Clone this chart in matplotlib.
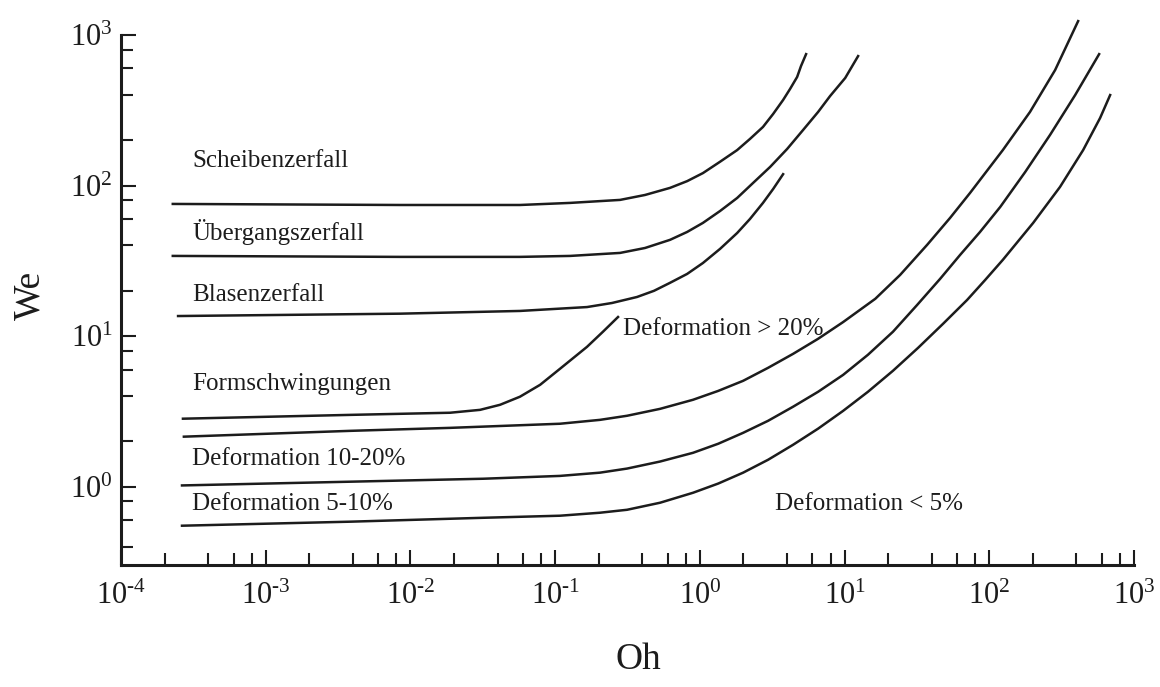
import matplotlib
matplotlib.use("Agg")
import matplotlib.pyplot as plt
from matplotlib.ticker import LogLocator, NullFormatter, FixedLocator, FuncFormatter

plt.rcParams['font.family'] = ['Liberation Serif', 'DejaVu Serif']
plt.rcParams['mathtext.fontset'] = 'custom'
plt.rcParams['mathtext.rm'] = 'Liberation Serif'
plt.rcParams['mathtext.default'] = 'regular'

# boundary curves (Oh, We)
oh_scheibe = [2.28e-4, 8.47e-3, 0.0571, 0.127, 0.281, 0.418, 0.622, 0.817, 1.05, 1.38,
              1.81, 2.22, 2.73, 3.21, 3.76, 4.20, 4.70, 5.00, 5.42]
we_scheibe = [75.5, 74.3, 74.3, 76.7, 80.3, 86.6, 96.5, 107, 121, 144,
              172, 204, 245, 299, 370, 438, 526, 622, 746]

oh_uebergang = [2.28e-4, 8.47e-3, 0.0571, 0.127, 0.281, 0.418, 0.622, 0.817, 1.05, 1.38,
                1.81, 2.33, 3.06, 4.01, 5.17, 6.56, 7.94, 10.1, 12.4]
we_uebergang = [34.1, 33.6, 33.6, 34.1, 35.7, 38.5, 43.6, 49.2, 56.5, 67.8,
                82.7, 104, 133, 175, 234, 308, 393, 518, 724]

oh_blasen = [2.48e-4, 8.47e-3, 0.0571, 0.166, 0.247, 0.368, 0.482, 0.622, 0.817, 1.05,
             1.38, 1.81, 2.22, 2.73, 3.21, 3.76]
we_blasen = [13.6, 14.1, 14.7, 15.6, 16.6, 18.2, 20.0, 22.6, 25.9, 30.6,
             38.0, 48.4, 60.0, 76.7, 94.9, 119]

oh_form = [2.68e-4, 3.83e-3, 0.0188, 0.0303, 0.0416, 0.0571, 0.0787, 0.108, 0.166, 0.214, 0.272]
we_form = [2.83, 3.00, 3.10, 3.24, 3.50, 3.96, 4.75, 6.07, 8.49, 10.7, 13.4]

oh_def20 = [2.72e-4, 3.83e-3, 0.0188, 0.108, 0.204, 0.314, 0.531, 0.897, 1.34, 1.99,
            2.96, 4.41, 6.56, 9.77, 16.3, 24.2, 37.2, 53.6, 73.6, 124, 191, 285, 411]
we_def20 = [2.15, 2.35, 2.46, 2.62, 2.78, 2.96, 3.29, 3.78, 4.33, 5.05,
            6.16, 7.63, 9.60, 12.4, 17.7, 25.5, 40.4, 61.0, 89.3, 172, 308, 585, 1236]

oh_def10 = [2.64e-4, 3.83e-3, 0.0318, 0.108, 0.204, 0.314, 0.531, 0.897, 1.34, 1.99,
            2.96, 4.41, 6.56, 9.77, 14.5, 21.6, 31.7, 45.7, 62.8, 86.3, 119, 177, 263, 392, 574]
we_def10 = [1.02, 1.08, 1.13, 1.18, 1.24, 1.32, 1.47, 1.68, 1.93, 2.28,
            2.74, 3.40, 4.27, 5.53, 7.52, 10.7, 16.1, 24.0, 34.6, 49.2, 72.1, 123, 217, 399, 746]

oh_def5 = [2.64e-4, 3.83e-3, 0.0318, 0.108, 0.204, 0.314, 0.531, 0.897, 1.34, 1.99,
           2.96, 4.41, 6.56, 9.77, 14.5, 21.6, 32.2, 48.0, 70.3, 93.6, 124, 201, 308, 445, 583, 684]
we_def5 = [0.551, 0.586, 0.622, 0.642, 0.672, 0.703, 0.783, 0.912, 1.05, 1.24,
           1.51, 1.90, 2.43, 3.19, 4.27, 5.89, 8.36, 12.1, 17.4, 23.6, 32.1, 56.5, 97.9, 172, 281, 399]

curves = [(oh_scheibe, we_scheibe), (oh_uebergang, we_uebergang),
          (oh_blasen, we_blasen), (oh_form, we_form), (oh_def20, we_def20),
          (oh_def10, we_def10), (oh_def5, we_def5)]

# region labels: text, Oh (left edge), We (baseline)
labels = ["Scheibenzerfall", "Übergangszerfall", "Blasenzerfall", "Formschwingungen",
          "Deformation 10-20%", "Deformation 5-10%", "Deformation > 20%", "Deformation < 5%"]
label_oh = [3.1e-4, 3.1e-4, 3.1e-4, 3.1e-4, 3.1e-4, 3.1e-4, 0.294, 3.31]
label_we = [133, 43.5, 17.1, 4.4, 1.40, 0.703, 10.2, 0.703]

x_major = [1e-4, 1e-3, 1e-2, 1e-1, 1e0, 1e1, 1e2, 1e3]
y_major = [1e0, 1e1, 1e2, 1e3]


def pow10(v, pos):
    e = int(round(__import__('math').log10(v)))
    s = str(e).replace('-', '\u2010')
    return r'$\mathregular{10^{%s}}$' % s


fig = plt.figure(figsize=(11.6, 6.87), dpi=100)
ax = fig.add_axes([0.1043, 0.1769, 0.8733, 0.7722])

for oh, we in curves:
    ax.plot(oh, we, color='#1c1c1c', lw=1.8, clip_on=False, solid_joinstyle='round')

for txt, x, y in zip(labels, label_oh, label_we):
    ax.text(x, y, txt, fontsize=18, ha='left', va='baseline', color='#1c1c1c')

ax.set_xscale('log')
ax.set_yscale('log')
ax.set_xlim(1e-4, 1e3)
ax.set_ylim(0.3, 1e3)

for s in ['top', 'right']:
    ax.spines[s].set_visible(False)
for s in ['left', 'bottom']:
    ax.spines[s].set_linewidth(2.2)
    ax.spines[s].set_color('#1c1c1c')

ax.xaxis.set_major_locator(FixedLocator(x_major))
ax.yaxis.set_major_locator(FixedLocator(y_major))
ax.xaxis.set_major_formatter(FuncFormatter(pow10))
ax.yaxis.set_major_formatter(FuncFormatter(pow10))
ax.xaxis.set_minor_locator(LogLocator(base=10, subs=[2, 4, 6, 8], numticks=20))
ax.yaxis.set_minor_locator(LogLocator(base=10, subs=[2, 4, 6, 8], numticks=20))
ax.xaxis.set_minor_formatter(NullFormatter())
ax.yaxis.set_minor_formatter(NullFormatter())

ax.tick_params(which='major', direction='in', length=11, width=1.5, color='#1c1c1c',
               labelsize=22, labelcolor='#1c1c1c')
ax.tick_params(which='minor', direction='in', length=8.5, width=1.5, color='#1c1c1c')
ax.tick_params(axis='x', which='major', pad=12)
ax.tick_params(axis='y', which='major', pad=6)

fig.text(638 / 1160, 1 - 660 / 687, "Oh", fontsize=27, ha='center', va='center', color='#1c1c1c')
fig.text(30 / 1160, 1 - 295 / 687, "We", fontsize=27, ha='center', va='center',
         rotation=90, color='#1c1c1c')

fig.savefig('out.png', dpi=100)
